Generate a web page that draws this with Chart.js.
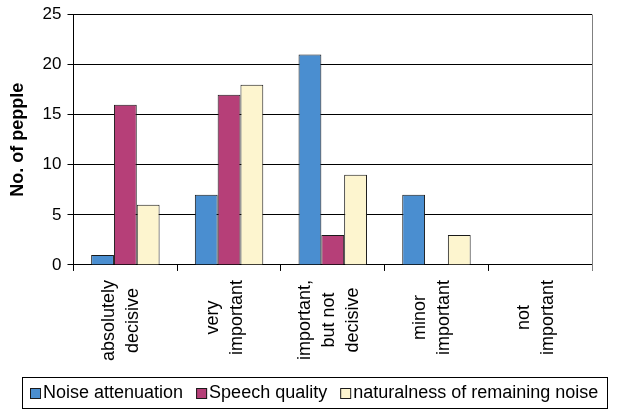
<!DOCTYPE html>
<html>
<head>
<meta charset="utf-8">
<script src="https://cdn.jsdelivr.net/npm/chart.js@4/dist/chart.umd.min.js"></script>
<style>
  html, body { margin: 0; padding: 0; background: #ffffff; }
  #wrap { width: 621px; height: 410px; }
</style>
</head>
<body>
<div id="wrap"><canvas id="c" width="621" height="410"></canvas></div>
<script>
const categories = [
  ["absolutely", "decisive"],
  ["very", "important"],
  ["important,", "but not", "decisive"],
  ["minor", "important"],
  ["not", "important"]
];
const seriesNames = ["Noise attenuation", "Speech quality", "naturalness of remaining noise"];
const noiseAttenuation = [1, 7, 21, 7, 0];
const speechQuality = [16, 17, 3, 0, 0];
const naturalness = [6, 18, 9, 3, 0];
const yTicks = [0, 5, 10, 15, 20, 25];

const FONT = "'Liberation Sans', Arial, sans-serif";
const COLORS = ['#4a8ed0', '#b63f78', '#fdf5cf'];

// Rotated category labels: lines centred on each other and the block centred on the tick
const centredLabels = {
  id: 'centredLabels',
  beforeDraw(chart) {
    const scale = chart.scales.x;
    const items = scale.getLabelItems();
    const ctx = chart.ctx;
    items.forEach(item => {
      if (item._centred) return;
      const lines = Array.isArray(item.label) ? item.label : [item.label];
      ctx.save();
      ctx.font = item.font.string;
      const maxW = Math.max(...lines.map(s => ctx.measureText(s).width));
      ctx.restore();
      const lh = item.font.lineHeight;
      item.options.textAlign = 'center';
      item.options.translation[1] += maxW / 2;
      item.options.translation[0] -= (lines.length - 1) * lh / 2 + 4;
      item._centred = true;
    });
  }
};

// Right edge of the plot frame and the boxed legend underneath
const framePlugin = {
  id: 'frame',
  afterDraw(chart) {
    const ctx = chart.ctx;
    const a = chart.chartArea;
    ctx.save();
    ctx.strokeStyle = '#808080';
    ctx.lineWidth = 1;
    ctx.beginPath();
    ctx.moveTo(Math.round(a.right) + 0.5, a.top);
    ctx.lineTo(Math.round(a.right) + 0.5, a.bottom + 6);
    ctx.stroke();

    // legend
    const fontSize = 18, sq = 11, gapText = 2, gapItem = 13;
    ctx.font = fontSize + "px " + FONT;
    const widths = chart.data.datasets.map(d => ctx.measureText(d.label).width);
    const total = widths.reduce((s, w) => s + w, 0) + widths.length * (sq + gapText) + (widths.length - 1) * gapItem;
    const boxL = 22, boxR = 607, boxT = 377, boxB = 408;
    const cy = (boxT + boxB) / 2;
    let x = Math.round((boxL + boxR) / 2 - total / 2);
    ctx.strokeStyle = '#000000';
    ctx.strokeRect(boxL + 0.5, boxT + 0.5, boxR - boxL, boxB - boxT);
    ctx.textBaseline = 'middle';
    ctx.textAlign = 'left';
    chart.data.datasets.forEach((d, i) => {
      const top = Math.round(cy - sq / 2 + 0.5);
      ctx.fillStyle = d.backgroundColor;
      ctx.fillRect(x, top, sq, sq);
      ctx.strokeStyle = '#1a1a1a';
      ctx.strokeRect(x + 0.5, top + 0.5, sq - 1, sq - 1);
      ctx.fillStyle = '#000000';
      ctx.fillText(d.label, x + sq + gapText, cy + 1);
      x += sq + gapText + widths[i] + gapItem;
    });
    ctx.restore();
  }
};

new Chart(document.getElementById('c'), {
  type: 'bar',
  data: {
    labels: categories,
    datasets: [
      { label: seriesNames[0], data: noiseAttenuation,
        backgroundColor: COLORS[0], borderColor: '#1a1a1a', borderWidth: 1 },
      { label: seriesNames[1], data: speechQuality,
        backgroundColor: COLORS[1], borderColor: '#1a1a1a', borderWidth: 1 },
      { label: seriesNames[2], data: naturalness,
        backgroundColor: COLORS[2], borderColor: '#1a1a1a', borderWidth: 1 }
    ]
  },
  options: {
    responsive: false,
    animation: false,
    devicePixelRatio: 1,
    layout: { padding: { top: 1, right: 0, left: 7, bottom: 40 } },
    datasets: { bar: { categoryPercentage: 0.66, barPercentage: 1.0 } },
    plugins: {
      tooltip: { enabled: false },
      legend: { display: false }
    },
    scales: {
      x: {
        offset: true,
        grid: { offset: true, drawOnChartArea: false, drawTicks: true, tickLength: 6, color: '#000000' },
        border: { color: '#000000' },
        ticks: {
          font: { family: FONT, size: 18, lineHeight: 1.333 },
          color: '#000000',
          minRotation: 90,
          maxRotation: 90,
          autoSkip: false,
          padding: 9
        }
      },
      y: {
        min: 0,
        max: 25,
        afterBuildTicks(axis) { axis.ticks = yTicks.map(v => ({ value: v })); },
        grid: { color: '#000000', lineWidth: 1, drawTicks: true, tickLength: 6 },
        border: { color: '#000000' },
        title: {
          display: true,
          text: 'No. of pepple',
          font: { family: FONT, size: 18, weight: 'bold' },
          color: '#000000',
          padding: { top: 0, bottom: 8 }
        },
        ticks: {
          font: { family: FONT, size: 17, lineHeight: 1.0 },
          color: '#000000',
          padding: 6
        }
      },
      // empty strip to the right of the plot
      yRight: {
        position: 'right',
        display: true,
        grid: { display: false, drawOnChartArea: false },
        border: { display: false },
        ticks: { display: false },
        afterFit(scale) { scale.width = 29; }
      }
    }
  },
  plugins: [centredLabels, framePlugin]
});
</script>
</body>
</html>
